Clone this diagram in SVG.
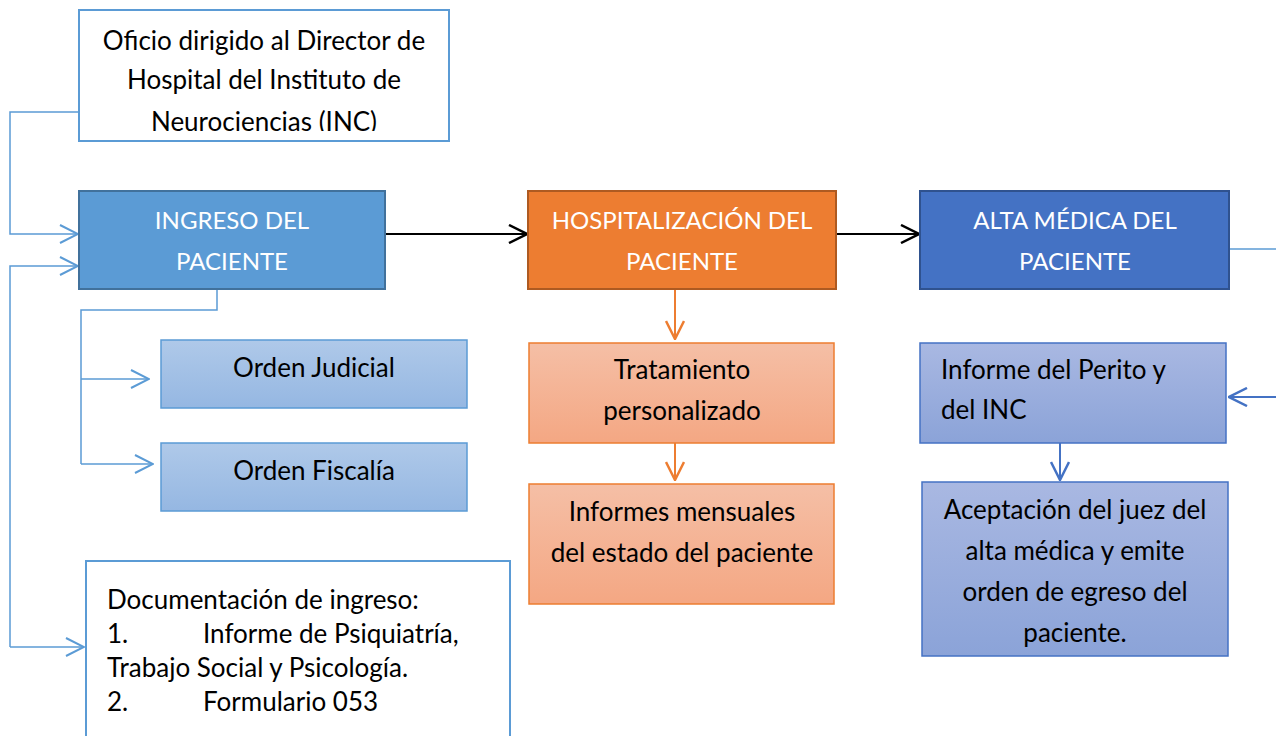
<svg xmlns="http://www.w3.org/2000/svg" width="1276" height="736" viewBox="0 0 1276 736">
<style>
text{font-family:Lato,"Liberation Sans",sans-serif;font-size:26px;fill:#000}
.c{text-anchor:middle}
.w{fill:#fff;font-size:24px}
.ln{fill:none;stroke-width:1.5}
.lb{stroke:#5B9BD5}
.dk{stroke:#4472C4;stroke-width:2}
.or{stroke:#ED7D31;stroke-width:2}
.bk{stroke:#000;stroke-width:2}
</style>
<defs>
<linearGradient id="gb" x1="0" y1="0" x2="0" y2="1"><stop offset="0" stop-color="#AFC9E9"/><stop offset="1" stop-color="#95B7E2"/></linearGradient>
<linearGradient id="go" x1="0" y1="0" x2="0" y2="1"><stop offset="0" stop-color="#F5BFA6"/><stop offset="1" stop-color="#F4A783"/></linearGradient>
<linearGradient id="gp" x1="0" y1="0" x2="0" y2="1"><stop offset="0" stop-color="#A9B8E2"/><stop offset="1" stop-color="#8BA3D8"/></linearGradient>
<marker id="ab" viewBox="0 0 20 20" refX="19" refY="10" markerWidth="20" markerHeight="20" markerUnits="userSpaceOnUse" orient="auto"><path d="M1 1 L19 10 L1 19" fill="none" stroke="#5B9BD5" stroke-width="2"/></marker>
<marker id="ad" viewBox="0 0 20 20" refX="19" refY="10" markerWidth="20" markerHeight="20" markerUnits="userSpaceOnUse" orient="auto"><path d="M1 1 L19 10 L1 19" fill="none" stroke="#4472C4" stroke-width="2.5"/></marker>
<marker id="ao" viewBox="0 0 20 20" refX="19" refY="10" markerWidth="20" markerHeight="20" markerUnits="userSpaceOnUse" orient="auto"><path d="M1 1 L19 10 L1 19" fill="none" stroke="#ED7D31" stroke-width="2.5"/></marker>
<marker id="ak" viewBox="0 0 20 20" refX="19" refY="10" markerWidth="20" markerHeight="20" markerUnits="userSpaceOnUse" orient="auto"><path d="M1 1 L19 10 L1 19" fill="none" stroke="#000" stroke-width="2.5"/></marker>
<clipPath id="cp"><rect x="79" y="10" width="370" height="121"/></clipPath>
</defs>

<g id="connectors">
<path class="ln lb" d="M79 112 H10 V234 H78" marker-end="url(#ab)"/>
<path class="ln lb" d="M10 647 V266 H78" marker-end="url(#ab)"/>
<path class="ln lb" d="M10 647 H84" marker-end="url(#ab)"/>
<path class="ln lb" d="M217 289 V310 H81 V464"/>
<path class="ln lb" d="M81 379 H149" marker-end="url(#ab)"/>
<path class="ln lb" d="M81 464 H153" marker-end="url(#ab)"/>
<path class="ln bk" d="M385 234 H527" marker-end="url(#ak)"/>
<path class="ln bk" d="M836 234 H919" marker-end="url(#ak)"/>
<path class="ln or" d="M675 289 V339" marker-end="url(#ao)"/>
<path class="ln or" d="M675 443 V480" marker-end="url(#ao)"/>
<path class="ln lb" d="M1229 249 H1276"/>
<path class="ln dk" d="M1276 397 H1229" marker-end="url(#ad)"/>
<path class="ln dk" d="M1060 443 V480" marker-end="url(#ad)"/>
</g>

<g id="oficio">
<rect x="79" y="10" width="370" height="131" fill="#fff" stroke="#5B9BD5" stroke-width="2"/>
<g clip-path="url(#cp)">
<text class="c" x="264" y="50">Oficio dirigido al Director de</text>
<text class="c" x="264" y="89">Hospital del Instituto de</text>
<text class="c" x="264" y="131">Neurociencias (INC)</text>
</g>
</g>

<g id="ingreso">
<rect x="79" y="191" width="306" height="98" fill="#5B9BD5" stroke="#41719C" stroke-width="2"/>
<text class="c w" x="232" y="229">INGRESO DEL</text>
<text class="c w" x="232" y="270">PACIENTE</text>
</g>

<g id="judicial">
<rect x="161" y="340" width="306" height="68" fill="url(#gb)" stroke="#5B9BD5" stroke-width="1.5"/>
<text class="c" x="314" y="377">Orden Judicial</text>
</g>

<g id="fiscalia">
<rect x="161" y="443" width="306" height="68" fill="url(#gb)" stroke="#5B9BD5" stroke-width="1.5"/>
<text class="c" x="314" y="480">Orden Fiscalía</text>
</g>

<g id="documentacion">
<rect x="86" y="561" width="424" height="190" fill="#fff" stroke="#5B9BD5" stroke-width="2"/>
<text x="107" y="609">Documentación de ingreso:</text>
<text x="107" y="643">1.</text>
<text x="203" y="643">Informe de Psiquiatría,</text>
<text x="107" y="677">Trabajo Social y Psicología.</text>
<text x="107" y="711">2.</text>
<text x="203" y="711">Formulario 053</text>
</g>

<g id="hospitalizacion">
<rect x="528" y="191" width="308" height="98" fill="#ED7D31" stroke="#AE5A21" stroke-width="2"/>
<text class="c w" x="682" y="229">HOSPITALIZACIÓN DEL</text>
<text class="c w" x="682" y="270">PACIENTE</text>
</g>

<g id="tratamiento">
<rect x="529" y="343" width="305" height="100" fill="url(#go)" stroke="#ED7D31" stroke-width="1.5"/>
<text class="c" x="682" y="379">Tratamiento</text>
<text class="c" x="682" y="420">personalizado</text>
</g>

<g id="informes">
<rect x="529" y="484" width="305" height="120" fill="url(#go)" stroke="#ED7D31" stroke-width="1.5"/>
<text class="c" x="682" y="521">Informes mensuales</text>
<text class="c" x="682" y="562">del estado del paciente</text>
</g>

<g id="alta">
<rect x="920" y="191" width="309" height="98" fill="#4472C4" stroke="#2F528F" stroke-width="2"/>
<text class="c w" x="1075" y="229">ALTA MÉDICA DEL</text>
<text class="c w" x="1075" y="270">PACIENTE</text>
</g>

<g id="perito">
<rect x="920" y="343" width="306" height="100" fill="url(#gp)" stroke="#4472C4" stroke-width="1.5"/>
<text x="941" y="379">Informe del Perito y</text>
<text x="941" y="419">del INC</text>
</g>

<g id="aceptacion">
<rect x="922" y="482" width="306" height="174" fill="url(#gp)" stroke="#4472C4" stroke-width="1.5"/>
<text class="c" x="1075" y="519">Aceptación del juez del</text>
<text class="c" x="1075" y="560">alta médica y emite</text>
<text class="c" x="1075" y="601">orden de egreso del</text>
<text class="c" x="1075" y="642">paciente.</text>
</g>
</svg>
